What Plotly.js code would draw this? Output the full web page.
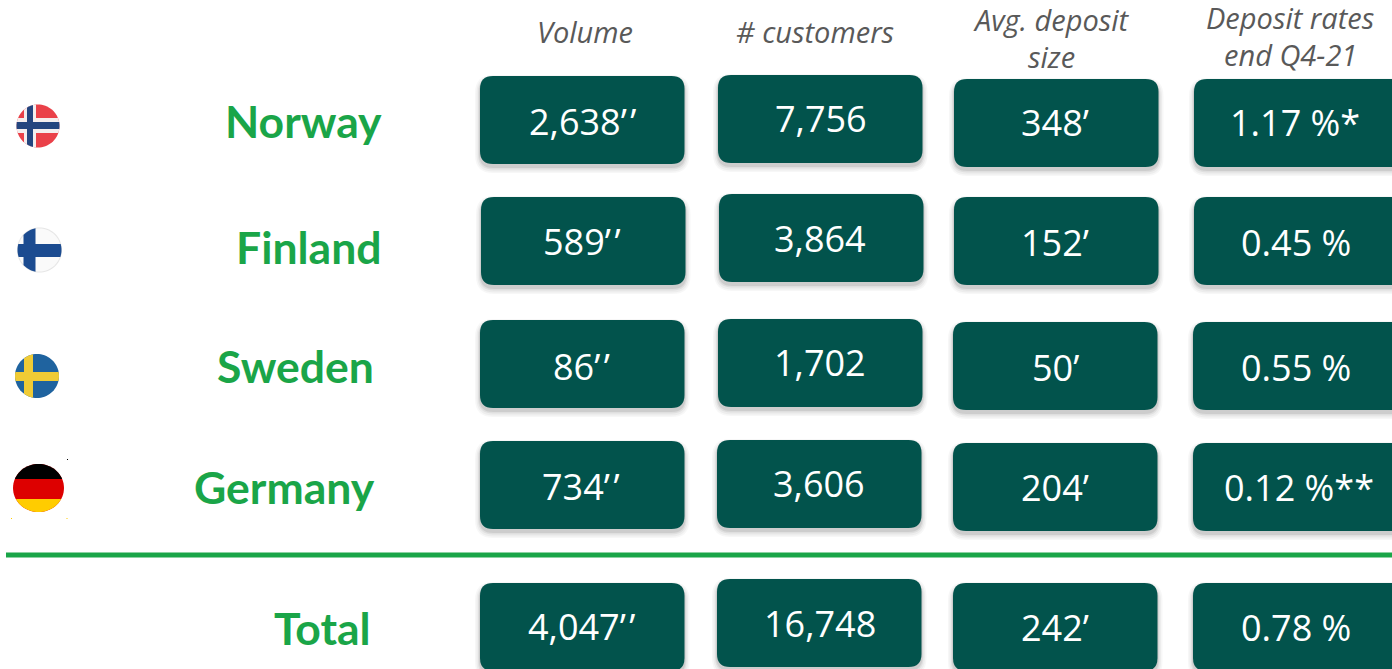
<!DOCTYPE html>
<html><head><meta charset="utf-8">
<style>html,body{margin:0;padding:0;background:#fff;overflow:hidden}</style>
<script src="https://cdn.plot.ly/plotly-3.0.1.min.js"></script>
</head><body><div id="chart" style="width:1392px;height:669px"></div>
<script>
// ---- content ----
const countries = ["Norway","Finland","Sweden","Germany","Total"];
const headers = [["Volume"],["# customers"],["Avg. deposit","size"],["Deposit rates","end Q4-21"]];
const volume = ["2,638’’","589’’","86’’","734’’","4,047’’"];
const customers = ["7,756","3,864","1,702","3,606","16,748"];
const avgDeposit = ["348’","152’","50’","204’","242’"];
const depositRates = ["1.17 %*","0.45 %","0.55 %","0.12 %**","0.78 %"];

// ---- layout of the cards (position only) ----
const cardLeft = [[480,718,954,1194],[481,719,954,1194],[480,718,953,1193],[480,717,953,1193],[480,717,953,1193]];
const cardTop  = [[76,75,79,79],[197,194,197,197],[320,319,322,322],[441,440,443,443],[583,579,583,583]];
const textX    = [[582,821,1055,1295],[582,820,1055,1296],[581,820,1055,1296],[581,819,1055,1299],[581,820,1055,1296]];
const textY    = [[121,118,122,122],[241,238,242,242],[366,362,367,367],[486,483,487,487],[626,623,627,627]];
const labelRight = [384,384,376,377,373];
const labelY = [120,246,365,486,627];
const headerX = [585,815,1051,1290];
const headerY = [[31],[31],[19,56],[17.5,54]];

const DARK="#02534c", GREEN="#1aa548", GREY="#595959";
const cols=[volume,customers,avgDeposit,depositRates];
const shapes=[], annotations=[];

function rr(x0,y0,x1,y1,r){
  return `M${x0+r},${y0} L${x1-r},${y0} Q${x1},${y0} ${x1},${y0+r} L${x1},${y1-r} Q${x1},${y1} ${x1-r},${y1} L${x0+r},${y1} Q${x0},${y1} ${x0},${y1-r} L${x0},${y0+r} Q${x0},${y0} ${x0+r},${y0} Z`;
}
function path(d,fill,extra){shapes.push(Object.assign({type:"path",xref:"x",yref:"y",path:d,fillcolor:fill,line:{width:0},layer:"above"},extra||{}));}

// cards
cols.forEach((col,c)=>col.forEach((val,r)=>{
  const x=cardLeft[r][c], y=cardTop[r][c], w=c===3?210:204.5, h=88;
  [[5,4,0.03],[3.5,4,0.04],[2,3.5,0.06],[1,3,0.08]].forEach(([e,dy,o])=>{
    path(rr(x-e,y-e+dy,x+w+e,y+h+e+dy,13+e),`rgba(0,0,0,${o})`);
  });
  path(rr(x,y,x+w,y+h,13),DARK);
  annotations.push({x:textX[r][c],y:textY[r][c],xref:"x",yref:"y",text:val.replace("’’","’\u200a’"),showarrow:false,xanchor:"center",yanchor:"middle",
    font:{family:"Open Sans",size:36,color:"#ffffff"}});
}));

// headers
headers.forEach((lines,c)=>lines.forEach((t,i)=>{
  annotations.push({x:headerX[c],y:headerY[c][i],xref:"x",yref:"y",text:"<i>"+t+"</i>",showarrow:false,xanchor:"center",yanchor:"middle",
    font:{family:"Open Sans",size:29,color:GREY}});
}));

// row labels
countries.forEach((t,r)=>{
  annotations.push({x:labelRight[r],y:labelY[r],xref:"x",yref:"y",text:"<b>"+t+"</b>",showarrow:false,xanchor:"right",yanchor:"middle",
    font:{family:"Lato",size:44.5,color:GREEN}});
});

// divider
shapes.push({type:"rect",xref:"x",yref:"y",x0:6,x1:1392,y0:552.5,y1:557.5,fillcolor:GREEN,line:{width:0},layer:"above"});

// flags: circle clipped pieces
function circlePts(cx,cy,rx,ry){const p=[];for(let i=0;i<72;i++){const a=i*Math.PI/36;p.push([cx+rx*Math.cos(a),cy+ry*Math.sin(a)]);}return p;}
function clipAxis(pts,k,v,keepGreater){
  const out=[],inside=p=>keepGreater?p[k]>=v:p[k]<=v;
  pts.forEach((a,i)=>{const b=pts[(i+1)%pts.length];
    if(inside(a))out.push(a);
    if(inside(a)!==inside(b)){const t=(v-a[k])/(b[k]-a[k]);out.push([a[0]+t*(b[0]-a[0]),a[1]+t*(b[1]-a[1])]);}
  });return out;
}
function clipRect(pts,x0,x1,y0,y1){
  pts=clipAxis(pts,0,x0,true);pts=clipAxis(pts,0,x1,false);pts=clipAxis(pts,1,y0,true);pts=clipAxis(pts,1,y1,false);return pts;
}
function polyD(p){return "M"+p.map(q=>q[0].toFixed(2)+","+q[1].toFixed(2)).join(" L")+" Z";}
function disc(cx,cy,rx,ry,fill){path(polyD(circlePts(cx,cy,rx,ry)),fill);}
function piece(cx,cy,rx,ry,x0,x1,y0,y1,fill){path(polyD(clipRect(circlePts(cx,cy,rx,ry),x0,x1,y0,y1)),fill);}
function cross(cx,cy,r,vx0,vx1,hy0,hy1,fill){
  piece(cx,cy,r,r,vx0,vx1,-1e4,1e4,fill);
  piece(cx,cy,r,r,-1e4,1e4,hy0,hy1,fill);
}
// Norway
disc(38,126,21.5,21.5,"#ea4149");
cross(38,126,21.5,24,36,118,133,"#f4eeee");
cross(38,126,21.5,27,33,122,129,"#24457f");
// Finland
disc(39.5,250,22.5,22.5,"#e6e6e6");
disc(39.5,250,21.5,21.5,"#fafafa");
cross(39.5,250,22,23.5,35.5,244,257,"#1b4b90");
// Sweden
disc(37,376,22,22,"#1f639f");
cross(37,376,22,24,33,372,381,"#f0cb35");
// Germany
disc(38.5,488,25.5,24,"#dd0000");
piece(38.5,488,25.5,24,-1e4,1e4,-1e4,479,"#000000");
piece(38.5,488,25.5,24,-1e4,1e4,499,1e4,"#ffcc00");
// small stray pixels around the German flag image
[[67,459,"#000000"],[11,518,"#ffcc00"],[66.5,518,"#ffcc00"]].forEach(([x,y,f])=>{
  shapes.push({type:"rect",xref:"x",yref:"y",x0:x,x1:x+1,y0:y,y1:y+1,fillcolor:f,line:{width:0},layer:"above"});
});

const data=[{type:"scatter",x:[],y:[],hoverinfo:"skip",showlegend:false}];
const layout={width:1392,height:669,margin:{l:0,r:0,t:0,b:0},paper_bgcolor:"#fff",plot_bgcolor:"#fff",showlegend:false,
  xaxis:{range:[0,1392],visible:false,fixedrange:true},
  yaxis:{range:[669,0],visible:false,fixedrange:true},
  shapes,annotations};
Plotly.newPlot("chart",data,layout,{displayModeBar:false,staticPlot:true});
</script></body></html>
